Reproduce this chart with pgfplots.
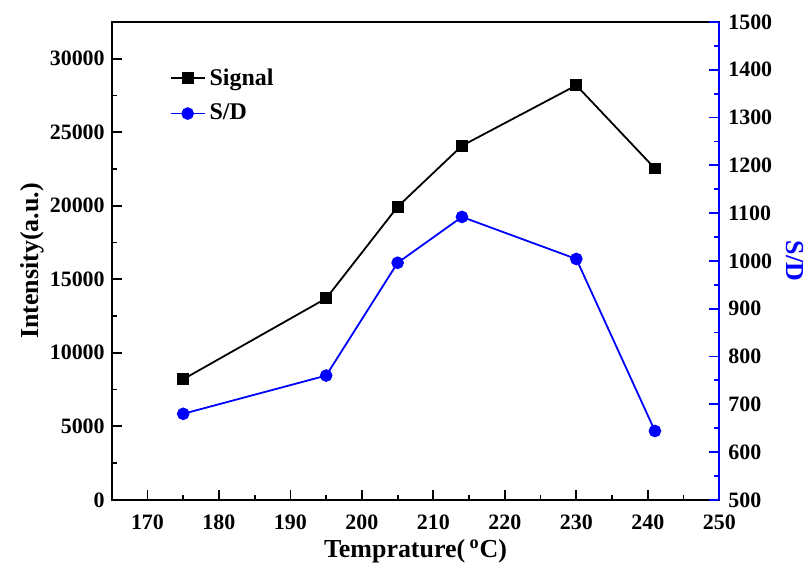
\documentclass[border=0pt]{standalone}
\usepackage{pgfplots}
\pgfplotsset{compat=1.18}
\usepackage{fontspec}
\setmainfont{Liberation Serif}
\definecolor{sdblue}{RGB}{0,0,255}

\pgfplotsset{
  common/.style={
    scale only axis,
    width=304.5pt, height=239.5pt,
    xmin=165, xmax=250,
    tick align=inside,
    major tick length=5pt, minor tick length=2.5pt,
    every tick/.style={line width=0.9pt},
    axis line style={line width=1pt},
    tick label style={font=\fontsize{11}{13}\selectfont\bfseries},
    label style={font=\fontsize{13}{15}\selectfont\bfseries},
    /pgf/number format/assume math mode=true,
    /pgf/number format/set thousands separator={},
    scaled ticks=false,
  }
}

\begin{document}
\begin{tikzpicture}
\begin{axis}[
  common, name=main,
  ymin=0, ymax=32500,
  xtick={170,180,...,250}, minor x tick num=1,
  ytick={0,5000,...,30000}, minor y tick num=1,
  xtick pos=bottom, ytick pos=left,
  xticklabel style={yshift=-4pt},
  xlabel={Temprature(\,\textsuperscript{o}C)},
  xlabel style={yshift=2pt},
  ylabel={Intensity(a.u.)},
  ylabel style={yshift=-4pt},
]
\addplot[black, line width=0.9pt, mark=square*, mark size=2.5pt] coordinates {
  (175,8200) (195,13700) (205,19930) (214,24080) (230,28190) (241,22530)
};
\end{axis}
\begin{axis}[
  common,
  ymin=500, ymax=1500,
  axis x line=none,
  axis y line*=right,
  y axis line style={sdblue, line width=1pt},
  ytick={500,600,...,1500}, minor y tick num=1,
  every y tick/.style={sdblue, line width=0.9pt},
  yticklabel style={xshift=1pt},
  ylabel={S/D},
  ylabel style={sdblue, rotate=180},
  legend style={at={(0.085,0.92)}, anchor=north west, draw=none, fill=none,
    font=\fontsize{12}{14}\selectfont\bfseries, row sep=4pt},
  legend cell align=left,
]
\addlegendimage{black, line width=0.9pt, mark=square*, mark size=2.5pt}
\addlegendentry{Signal}
\addplot[sdblue, line width=0.9pt, mark=*, mark size=2.7pt] coordinates {
  (175,680) (195,760) (205,996) (214,1092) (230,1004) (241,644)
};
\addlegendentry{S/D}
\end{axis}
\path ([yshift=11pt]main.north) -- ([yshift=11pt,xshift=-56pt]main.north west);
\end{tikzpicture}
\end{document}
